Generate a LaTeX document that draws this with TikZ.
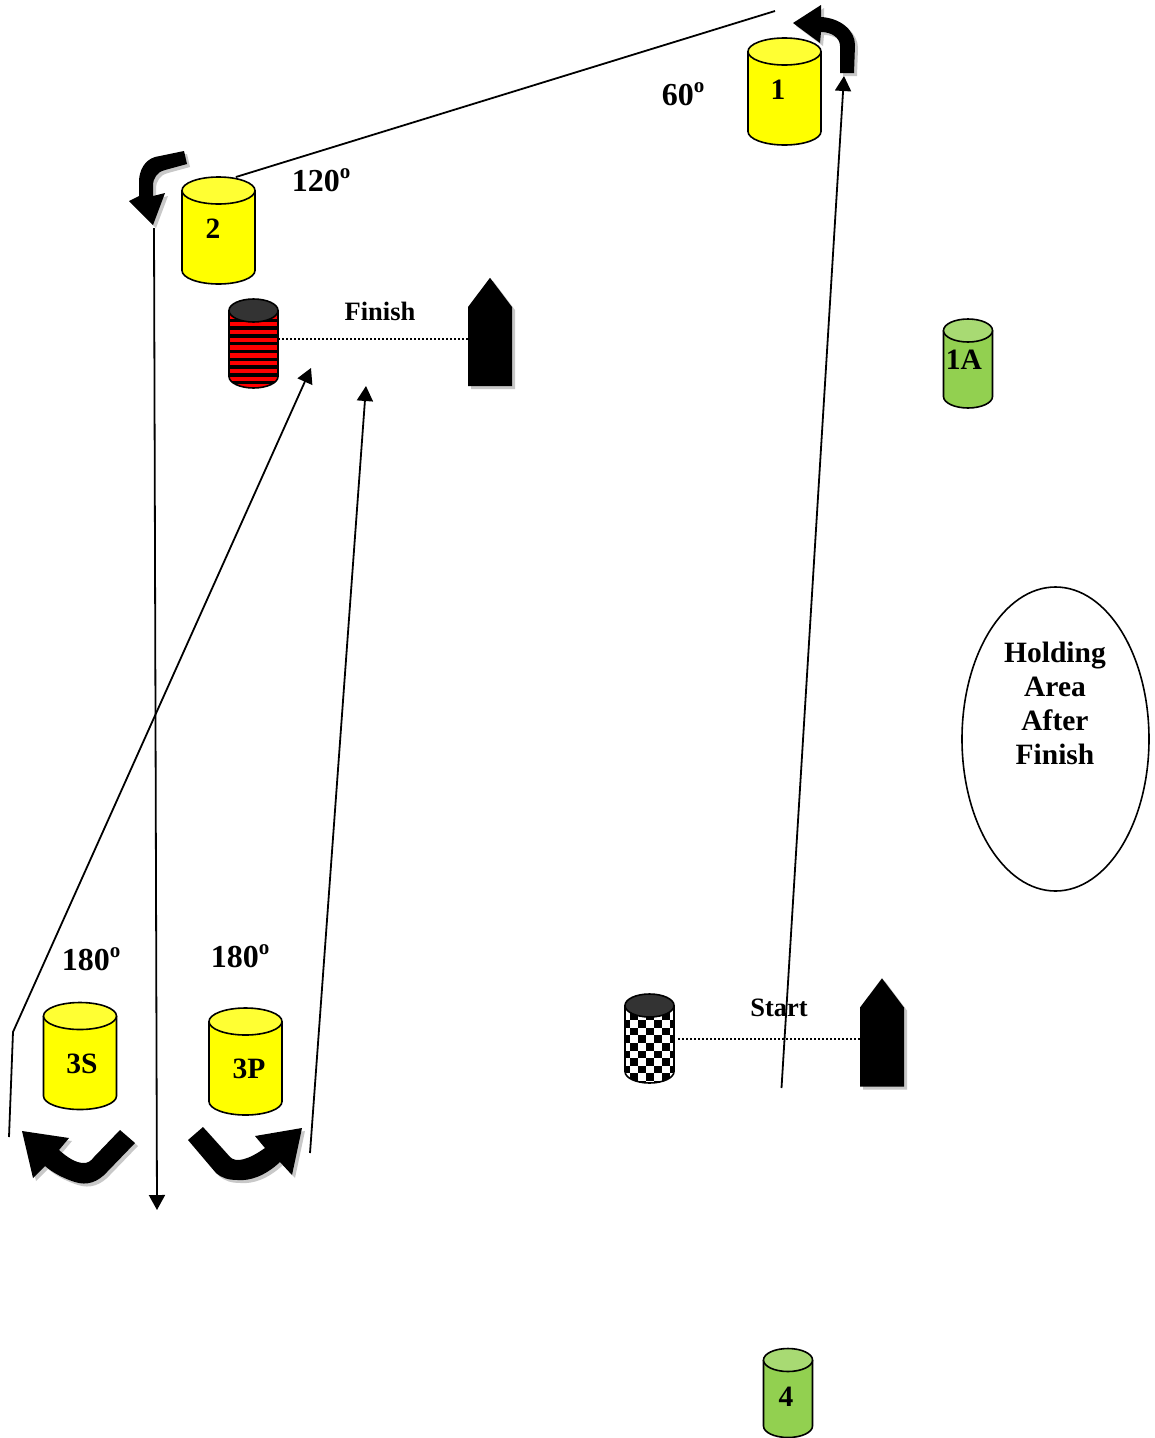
\documentclass[tikz,border=0pt]{standalone}
\usepackage{fontspec}
\setmainfont{Liberation Serif}
\usetikzlibrary{shapes.geometric,shapes.symbols,shadows,arrows.meta}

\definecolor{markyellow}{HTML}{FFFF00}
\definecolor{markyellowtop}{HTML}{FFFF33}
\definecolor{markgreen}{HTML}{92D050}
\definecolor{markgreentop}{HTML}{A8DA73}
\definecolor{marktop}{HTML}{333333}
\definecolor{boatshadow}{HTML}{C8C8C8}

\newcommand{\degmark}{\raisebox{0.42em}{\fontsize{21}{21}\selectfont o}}

\newcommand{\drum}[8]{
	\draw (#2) node[minimum width = #3pt, minimum height = #4pt, inner sep = 0pt, outer sep = 0pt] (#1) {};
	\begin{scope}[shift = {(#1)}, x = 1pt, y = 1pt, line width = 1.6pt]
		\fill[#6] (-#3/2,#4/2-#5) -- (-#3/2,-#4/2+#5) arc[start angle = 180, end angle = 360, x radius = #3/2, y radius = #5] -- (#3/2,#4/2-#5) arc[start angle = 0, end angle = 180, x radius = #3/2, y radius = #5] -- cycle;
		\begin{scope}
			\clip (-#3/2,#4/2-#5) -- (-#3/2,-#4/2+#5) arc[start angle = 180, end angle = 360, x radius = #3/2, y radius = #5] -- (#3/2,#4/2-#5) arc[start angle = 0, end angle = 180, x radius = #3/2, y radius = #5] -- cycle;
			#8
		\end{scope}
		\draw (-#3/2,#4/2-#5) -- (-#3/2,-#4/2+#5) arc[start angle = 180, end angle = 360, x radius = #3/2, y radius = #5] -- (#3/2,#4/2-#5);
		\filldraw[fill = #7] (0,#4/2-#5) ellipse[x radius = #3/2, y radius = #5];
	\end{scope}
}

\tikzset{
	marklabel/.style = {font = \fontsize{29.5}{34}\selectfont\bfseries, align = center, inner sep = 0pt},
	anglelabel/.style = {font = \fontsize{32}{34}\selectfont\bfseries, inner sep = 0pt},
	linelabel/.style = {font = \fontsize{26.5}{30}\selectfont\bfseries, inner sep = 0pt},
	boat/.style = {signal, signal to = north, signal pointer angle = 74, fill = black, minimum width = 44pt, minimum height = 79pt, inner sep = 0pt, outer sep = 0pt, drop shadow = {shadow xshift = 3pt, shadow yshift = -3pt, fill = boatshadow, opacity = 1}},
	leg/.style = {line width = 1.8pt, -{Triangle[length = 15pt, width = 16pt]}},
	plainleg/.style = {line width = 1.8pt},
	startline/.style = {line width = 1.3pt, dash pattern = on 2pt off 2pt},
	turn/.style = {fill = black, drop shadow = {shadow xshift = 3pt, shadow yshift = -3pt, fill = boatshadow, opacity = 1}}
}

\begin{document}
\begin{tikzpicture}[x = 1pt, y = -1pt]
	\useasboundingbox (0,0) rectangle (1155,1438);

	\drum{mark1}{784.5,91.5}{73}{107}{13.5}{markyellow}{markyellowtop}{}
	\drum{mark2}{218.5,230.5}{73}{107}{13.5}{markyellow}{markyellowtop}{}
	\drum{mark3S}{80,1056}{73}{107}{13.5}{markyellow}{markyellowtop}{}
	\drum{mark3P}{245.5,1061.5}{73}{107}{13.5}{markyellow}{markyellowtop}{}
	\drum{mark1A}{968,363.5}{49}{89}{11.5}{markgreen}{markgreentop}{}
	\drum{mark4}{788,1393}{49}{89}{11.5}{markgreen}{markgreentop}{}

	\draw (778,90) node[marklabel] (label1) {1};
	\draw (213,229) node[marklabel] (label2) {2};
	\draw (82,1064) node[marklabel] (label3S) {3S};
	\draw (249,1069) node[marklabel] (label3P) {3P};
	\draw (964,360) node[marklabel] (label1A) {1A};
	\draw (786,1397) node[marklabel] (label4) {4};

	\draw (683,94) node[anglelabel] (angle1) {60\degmark};
	\draw (321,180) node[anglelabel] (angle2) {120\degmark};
	\draw (91,959) node[anglelabel] (angle3S) {180\degmark};
	\draw (240,956) node[anglelabel] (angle3P) {180\degmark};

	\drum{finishmark}{253.5,343.5}{49}{89}{11.5}{red}{marktop}{
		\foreach \row in {0,...,8}
			\fill[black] (-26,25 - 7.8*\row) rectangle (26,21.6 - 7.8*\row);
	}
	\drum{startmark}{649.5,1038.5}{49}{89}{11.5}{white}{marktop}{
		\foreach \col in {0,...,6}
			\foreach \row in {0,...,9} {
				\pgfmathtruncatemacro{\odd}{mod(\col + \row,2)}
				\ifnum\odd = 1
					\fill[black] (-28 + 8*\col,26 - 7.6*\row) rectangle (-20 + 8*\col,18.4 - 7.6*\row);
				\fi
			}
	}

	\draw (490,346.5) node[boat] (finishboat) {};
	\draw (882,1047) node[boat] (startboat) {};
	\coordinate (finishlevel) at (0,339);
	\coordinate (startlevel) at (0,1039);
	\draw (380,311) node[linelabel] (finishtext) {Finish};
	\draw (779,1008) node[linelabel] (starttext) {Start};
	\draw [startline] (finishmark.east |- finishlevel) -- (finishboat.west |- finishlevel);
	\draw [startline] ([xshift = 4pt]startmark.east |- startlevel) -- (startboat.west |- startlevel);

	\draw (1055.5,739) node[ellipse, draw, line width = 1.6pt, minimum width = 187pt, minimum height = 304pt] (holding) {};
	\draw (1055,703) node[marklabel] (holdingtext) {Holding\\Area\\After\\Finish};

	\coordinate (leg1start) at (781.5,1088);
	\coordinate (leg1end) at (844,76);
	\coordinate (leg2start) at (775,11);
	\coordinate (leg3start) at (154,228);
	\coordinate (leg3end) at (157,1210);
	\coordinate (leg4start) at (9,1137);
	\coordinate (leg4bend) at (13,1032);
	\coordinate (leg4end) at (311,368);
	\coordinate (leg5start) at (310,1153);
	\coordinate (leg5end) at (366,386);

	\draw [leg] (leg1start) -- (leg1end);
	\draw [plainleg] (leg2start) -- (mark2.72);
	\draw [leg] (leg3start) -- (leg3end);
	\draw [leg] (leg4start) -- (leg4bend) -- (leg4end);
	\draw [leg] (leg5start) -- (leg5end);

	\path [turn] (840,73) -- (854,73) -- (855,45) .. controls (855,30) and (840,18) .. (821,17) -- (821,5) -- (793,23) -- (820,43) -- (821,32) .. controls (832,32) and (840,38) .. (840,46) -- cycle;
	\path [turn] (184,151) -- (187,164) -- (165,170) .. controls (157,172) and (153,178) .. (153,186) -- (153,196) -- (165,193) -- (153,225) -- (129,201) -- (139,196) -- (139,182) .. controls (139,170) and (145,160) .. (155,157) -- cycle;
	\path [turn] (120,1130) -- (135,1143) -- (107,1172) .. controls (98,1182) and (87,1186) .. (75,1182) .. controls (65,1179) and (53,1173) .. (45,1166) -- (33,1178) -- (22,1131) -- (69,1138) -- (59,1150) .. controls (68,1158) and (76,1163) .. (84,1163) .. controls (88,1163) and (91,1161) .. (94,1157) -- cycle;
	\path [turn] (188,1140) -- (203,1127) -- (230,1157) .. controls (236,1163) and (248,1160) .. (265,1148) -- (255,1136) -- (302,1128) -- (292,1175) -- (280,1162) .. controls (265,1176) and (250,1181) .. (238,1180) .. controls (228,1180) and (222,1178) .. (216,1173) -- cycle;
\end{tikzpicture}
\end{document}
